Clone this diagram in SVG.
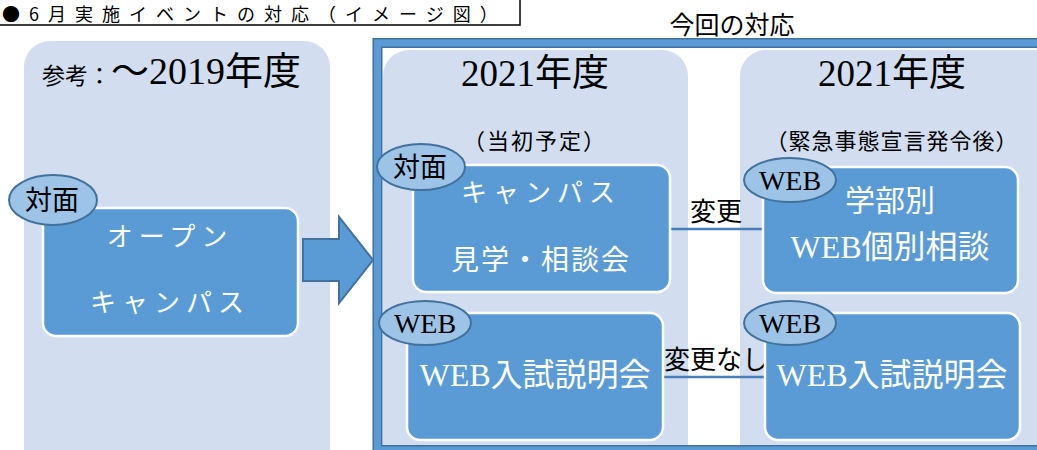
<svg xmlns="http://www.w3.org/2000/svg" width="1037" height="450" viewBox="0 0 1037 450">
<defs>
<style>
.panel{fill:#D2DEEF;}
.box{fill:#5B9BD5;stroke:#FFFFFF;stroke-width:2.5;}
.oval{fill:#9DC3E6;stroke:#41719C;stroke-width:2;}
.t{font-family:"Liberation Serif","Noto Sans CJK JP",serif;text-anchor:middle;}
.w{fill:#FFFFFF;}
.k{fill:#000000;}
.conn{stroke:#4A7EBB;stroke-width:2.5;fill:none;}
</style>
</defs>
<rect width="1037" height="450" fill="#FFFFFF"/>
<g id="title">
<rect x="-10" y="-20" width="530" height="45" fill="#FFFFFF" stroke="#000000" stroke-width="1.5"/>
<text x="2" y="21" font-family="'Noto Sans CJK JP','Noto Sans',sans-serif" font-size="18" letter-spacing="9" fill="#000">●6月実施イベントの対応（イメージ図）</text>
</g>
<g id="panels">
<rect class="panel" x="24" y="41" width="306" height="440" rx="26"/>
<rect class="panel" x="383" y="50" width="305" height="420" rx="26"/>
<rect class="panel" x="740" y="50" width="340" height="420" rx="26"/>
</g>
<g id="frame">
<rect x="377.5" y="43" width="700" height="407" fill="none" stroke="#41719C" stroke-width="10"/>
<rect x="377.5" y="43" width="700" height="407" fill="none" stroke="#5B9BD5" stroke-width="7"/>
<text class="t k" x="732" y="34" font-size="25">今回の対応</text>
</g>
<g id="headers">
<text class="k" x="42" y="84" font-family="'Liberation Serif','Noto Sans CJK JP',serif" font-size="23">参考：<tspan font-size="38">～2019年度</tspan></text>
<text class="t k" x="535" y="86" font-size="37">2021年度</text>
<text class="t k" x="892" y="86" font-size="37">2021年度</text>
<text class="t k" x="535" y="149" font-size="22" letter-spacing="2">（当初予定）</text>
<text class="t k" x="892" y="149" font-size="22" letter-spacing="1">（緊急事態宣言発令後）</text>
</g>
<g id="arrow">
<path d="M303,239 H339 V217 L373,260 L339,303 V281 H303 Z" fill="#5B9BD5" stroke="#41719C" stroke-width="2"/>
</g>
<g id="connectors">
<line class="conn" x1="670" y1="229" x2="763" y2="229"/>
<line class="conn" x1="663" y1="377" x2="765" y2="377"/>
<text class="t k" x="716" y="221" font-size="26">変更</text>
<text class="t k" x="716" y="369" font-size="26">変更なし</text>
</g>
<g id="node-open-campus">
<rect class="box" x="43" y="208" width="255" height="128" rx="13"/>
<text class="t w" x="170" y="246" font-size="26" letter-spacing="6">オープン</text>
<text class="t w" x="170" y="312" font-size="26" letter-spacing="6">キャンパス</text>
<ellipse class="oval" cx="53" cy="200" rx="44" ry="25"/>
<text class="t k" x="52" y="210" font-size="27">対面</text>
</g>
<g id="node-campus-visit">
<rect class="box" x="413" y="165" width="257" height="127" rx="13"/>
<text class="t w" x="541" y="202" font-size="26" letter-spacing="6">キャンパス</text>
<text class="t w" x="541" y="270" font-size="28" letter-spacing="2">見学・相談会</text>
<ellipse class="oval" cx="421" cy="167" rx="44" ry="23"/>
<text class="t k" x="420" y="177" font-size="27">対面</text>
</g>
<g id="node-web-setsumei-1">
<rect class="box" x="407" y="313" width="256" height="127" rx="13"/>
<text class="t w" x="535" y="386" font-size="32">WEB入試説明会</text>
<ellipse class="oval" cx="425" cy="323" rx="46" ry="22"/>
<text class="t k" x="425" y="333" font-size="28">WEB</text>
</g>
<g id="node-web-kobetsu">
<rect class="box" x="763" y="167" width="255" height="126" rx="13"/>
<text class="t w" x="890" y="211" font-size="30">学部別</text>
<text class="t w" x="890" y="258" font-size="32">WEB個別相談</text>
<ellipse class="oval" cx="790" cy="180" rx="46" ry="22"/>
<text class="t k" x="790" y="190" font-size="28">WEB</text>
</g>
<g id="node-web-setsumei-2">
<rect class="box" x="765" y="313" width="255" height="127" rx="13"/>
<text class="t w" x="892" y="386" font-size="32">WEB入試説明会</text>
<ellipse class="oval" cx="790" cy="323" rx="46" ry="22"/>
<text class="t k" x="790" y="333" font-size="28">WEB</text>
</g>
</svg>
